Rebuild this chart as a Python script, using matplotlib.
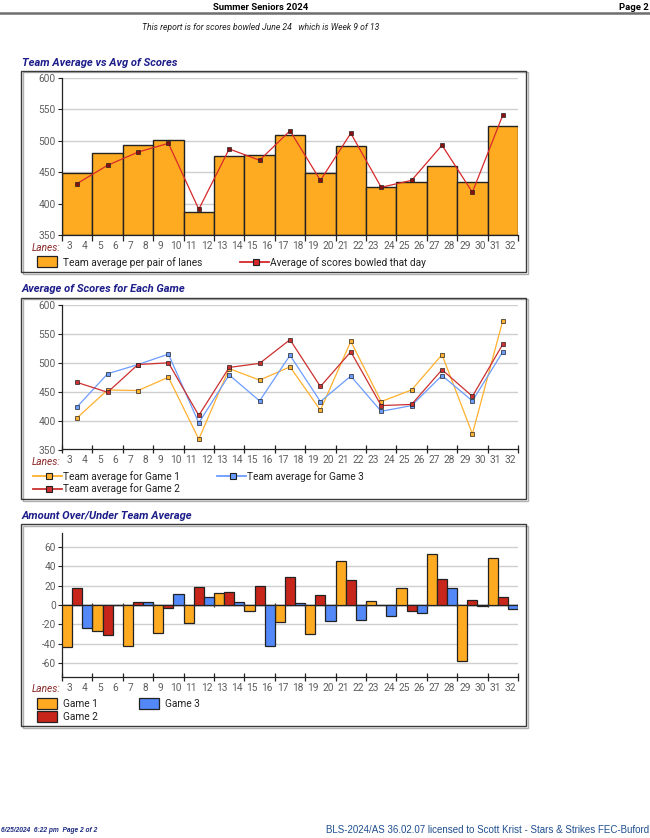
import matplotlib
matplotlib.use("Agg")
import matplotlib.pyplot as plt
from matplotlib import font_manager
from matplotlib.patches import Rectangle
from matplotlib.lines import Line2D
import numpy as np

W, H = 650, 838

lanes = list(range(3, 33))

# team average per pair of lanes (bars) and average of scores bowled that day (line)
team_avg = [448, 480, 493, 502, 387, 476, 477, 510, 448, 491, 427, 435, 460, 435, 523]
day_avg = [432, 461, 482, 496, 391, 487, 469, 516, 437, 512, 426, 437, 493, 418, 541]

game1 = [405, 453, 452, 475, 368, 490, 470, 493, 418, 537, 433, 453, 514, 377, 573]
game2 = [466, 449, 497, 500, 409, 492, 499, 540, 459, 519, 426, 428, 488, 442, 532]
game3 = [424, 481, 497, 515, 396, 479, 434, 513, 433, 477, 416, 426, 478, 434, 519]

g1_diff = [-43, -27, -42, -29, -19, 12, -6, -17, -30, 45, 4, 17, 52, -58, 48]
g2_diff = [17, -31, 3, -3, 19, 13, 20, 29, 10, 26, 0, -6, 27, 5, 8]
g3_diff = [-24, 0, 3, 11, 8, 3, -42, 2, -16, -15, -11, -8, 17, -1, -4]

ORANGE = "#ffab22"
RED = "#c8261a"
BLUE = "#5288f7"
NAVY = "#1c1c8a"
GRAY = "#5e5e5e"

installed = {f.name for f in font_manager.fontManager.ttflist}
NARROW = "Liberation Sans Narrow" if "Liberation Sans Narrow" in installed else "Roboto"
plt.rcParams["font.family"] = ["Roboto", "DejaVu Sans"]

fig = plt.figure(figsize=(W / 100, H / 100), dpi=100)


def fx(x):
    return x / W


def fy(y):
    return 1 - y / H


def px_axes(l, t, r, b):
    return fig.add_axes([fx(l), fy(b), (r - l) / W, (b - t) / H])


def frame(l, t, r, b):
    # light shadow on right and bottom, then the box
    fig.add_artist(Rectangle((fx(l + 1.5), fy(b + 1.5)), (r - l) / W, (b - t) / H,
                             transform=fig.transFigure, fill=False, ec="#b0b0b0", lw=1.0))
    fig.add_artist(Rectangle((fx(l), fy(b)), (r - l) / W, (b - t) / H,
                             transform=fig.transFigure, fill=False, ec="#3a3a3a", lw=1.0))


def title(y, s):
    fig.text(fx(22), fy(y), s, fontsize=8, fontweight="bold", fontstyle="italic",
             color=NAVY, va="center", ha="left")


def style_axes(ax, ylim, yticks, tickdir):
    n = len(team_avg)
    ax.set_xlim(0, n)
    ax.set_ylim(*ylim)
    ax.set_yticks(yticks)
    ax.set_yticklabels([str(v) for v in yticks])
    ax.set_xticks(np.arange(0, n + 1))
    ax.set_xticklabels([])
    ax.set_xticks((np.arange(len(lanes)) + 0.5) / 2, minor=True)
    ax.set_xticklabels([str(v) for v in lanes], minor=True)
    ax.tick_params(axis="x", which="minor", length=0, pad=4, labelsize=7.3, labelcolor=GRAY)
    ax.tick_params(axis="x", which="major", length=4 if tickdir == "out" else 6,
                   direction=tickdir, width=0.9, color="#222222")
    ax.tick_params(axis="y", length=3, width=0.8, color="#222222", labelsize=7.3,
                   labelcolor=GRAY, pad=1.5)
    for side in ("top", "right"):
        ax.spines[side].set_visible(False)
    for side in ("left", "bottom"):
        ax.spines[side].set_color("#222222")
        ax.spines[side].set_linewidth(0.9)
    ax.grid(axis="y", color="#cfcfcf", lw=1.0)
    ax.set_axisbelow(True)
    ax.text(-0.003, -0.085, "Lanes:", transform=ax.transAxes, ha="right", va="center",
            fontsize=7.3, fontstyle="italic", color="#8c2a2a")


def legend_patch(x, y, color, label):
    fig.add_artist(Rectangle((fx(x), fy(y + 5)), 20 / W, 11 / H, transform=fig.transFigure,
                             fc=color, ec="#222222", lw=0.9))
    fig.text(fx(x + 26), fy(y), label, fontsize=7.3, va="center", ha="left", color="#222222")


def legend_line(x, y, color, label, length=29):
    fig.add_artist(Line2D([fx(x), fx(x + length)], [fy(y), fy(y)], transform=fig.transFigure,
                          color=color, lw=1.3))
    fig.add_artist(Line2D([fx(x + length / 2 + 1)], [fy(y)], transform=fig.transFigure,
                          marker="s", ms=4.2, mfc=color, mec="#222222", mew=0.8, ls="none"))
    fig.text(fx(x + length + 1), fy(y), label, fontsize=7.3, va="center", ha="left", color="#222222")


# header
fig.text(fx(261), fy(8), "Summer Seniors 2024", fontsize=6.8, fontweight="bold",
         family=[NARROW, "DejaVu Sans"], ha="center", va="center")
fig.text(fx(649), fy(8), "Page 2", fontsize=6.8, fontweight="bold",
         family=[NARROW, "DejaVu Sans"], ha="right", va="center")
fig.add_artist(Line2D([0, 1], [fy(13.5), fy(13.5)], transform=fig.transFigure,
                      color="#6e6e6e", lw=1.8))
fig.text(fx(261), fy(27), "This report is for scores bowled June 24   which is Week 9 of 13",
         fontsize=6.2, fontstyle="italic", family=[NARROW, "DejaVu Sans"],
         ha="center", va="center", color="#222222")

x = np.arange(len(team_avg)) + 0.5

# chart 1
title(62.5, "Team Average vs Avg of Scores")
frame(21, 71, 526, 272)
ax1 = px_axes(62, 78, 518, 235)
ax1.bar(x, np.array(team_avg) - 350, bottom=350, width=1.0, color=ORANGE,
        edgecolor="#222222", lw=1.0)
ax1.plot(x, day_avg, color="#d8282a", lw=0.9, marker="s", ms=2.2,
         mfc="#8a1010", mec="#222222", mew=0.5)
style_axes(ax1, (350, 600), [350, 400, 450, 500, 550, 600], "out")
legend_patch(37, 262.5, ORANGE, "Team average per pair of lanes")
legend_line(240, 262.5, "#d8282a", "Average of scores bowled that day")

# chart 2
title(289, "Average of Scores for Each Game")
frame(21, 298, 526, 499)
ax2 = px_axes(62, 305, 518, 449.5)
for vals, col in ((game1, "#ffb02e"), (game3, "#6b9cff"), (game2, "#cc3030")):
    ax2.plot(x, vals, color=col, lw=0.9, marker="s", ms=2.3, mfc=col,
             mec="#222222", mew=0.5)
style_axes(ax2, (350, 600), [350, 400, 450, 500, 550, 600], "inout")
legend_line(33, 476.5, "#ffb02e", "Team average for Game 1")
legend_line(217, 476.5, "#6b9cff", "Team average for Game 3")
legend_line(33, 489, "#cc3030", "Team average for Game 2")

# chart 3
title(516, "Amount Over/Under Team Average")
frame(21, 524, 526, 726)
ax3 = px_axes(62, 533, 518, 677)
bw = 1 / 3
for k, (vals, col) in enumerate(((g1_diff, ORANGE), (g2_diff, RED), (g3_diff, BLUE))):
    ax3.bar(np.arange(len(vals)) + (k + 0.5) * bw, vals, width=bw, color=col,
            edgecolor="#222222", lw=0.9, zorder=3)
ax3.axhline(0, color="#333333", lw=1.0, zorder=2)
ax3.vlines(np.arange(1, len(g1_diff) + 1), -1.6, 1.6, color="#333333", lw=0.9, zorder=4)
style_axes(ax3, (-74, 74), [-60, -40, -20, 0, 20, 40, 60], "inout")
legend_patch(37, 704, ORANGE, "Game 1")
legend_patch(139, 704, BLUE, "Game 3")
legend_patch(37, 717, RED, "Game 2")

# footer
fig.text(fx(1), fy(830), "6/25/2024  6:22 pm  Page 2 of 2", fontsize=4.8, fontweight="bold",
         fontstyle="italic", color="#1c2a80", family=["Liberation Sans", "DejaVu Sans"],
         ha="left", va="center")
fig.text(fx(649), fy(830), "BLS-2024/AS 36.02.07 licensed to Scott Krist - Stars & Strikes FEC-Buford",
         fontsize=7.0, color="#1f4f90", family=["Liberation Sans", "DejaVu Sans"],
         ha="right", va="center")

fig.savefig("out.png", dpi=100)
